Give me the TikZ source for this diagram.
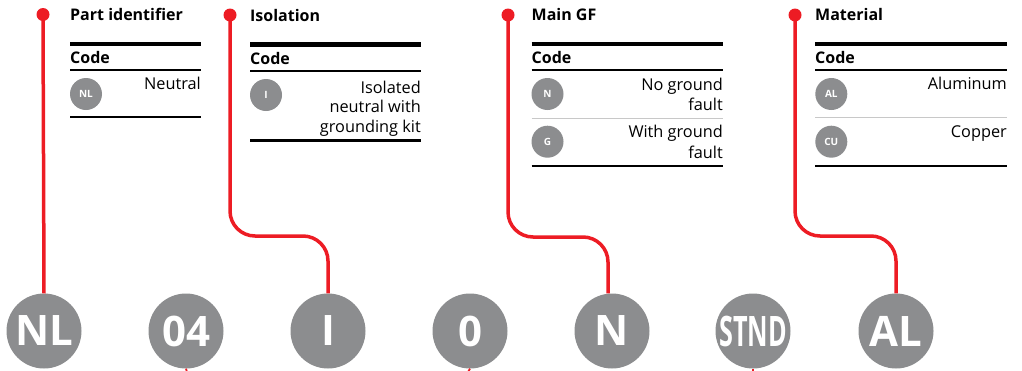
\documentclass[tikz,border=0pt]{standalone}
\usepackage{fontspec}
\setmainfont{Open Sans}
\usetikzlibrary{calc}
\definecolor{abbred}{RGB}{237,28,36}
\definecolor{circgray}{RGB}{140,141,143}
\definecolor{sepgray}{RGB}{200,200,200}
\begin{document}
\begin{tikzpicture}[x=1pt,y=-1pt,
 big/.style={circle,fill=circgray,minimum size=75pt,inner sep=0pt,text=white,font=\fontsize{42}{42}\selectfont\bfseries},
 small/.style={circle,fill=circgray,minimum size=32pt,inner sep=0pt,text=white,font=\fontsize{10}{10}\selectfont\bfseries},
 dotnode/.style={circle,fill=abbred,minimum size=13pt,inner sep=0pt},
 link/.style={draw=abbred,line width=3.5pt,rounded corners=25pt},
 stub/.style={draw=abbred,line width=1.8pt},
 title/.style={anchor=base west,inner sep=0pt,font=\fontsize{16}{16}\selectfont\bfseries},
 body/.style={anchor=base east,inner sep=0pt,font=\fontsize{16.3}{16}\selectfont},
 thickrule/.style={line width=4.5pt},
 rule/.style={line width=2.2pt},
 thinrule/.style={draw=sepgray,line width=1pt}]
\useasboundingbox (0,0) rectangle (1022,370);

% big code circles
\node[big] (c1) at (44,331) {NL};
\node[big] (c2) at (186,331) {04};
\node[big] (c3) at (328,331) {I};
\node[big] (c4) at (470,331) {0};
\node[big] (c5) at (612,331) {N};
\node[big] (c6) at (753,331) {\scalebox{0.6}[1]{STND}};
\node[big] (c7) at (896,331) {AL};

% dots
\node[dotnode] (d1) at (43,14.5) {};
\node[dotnode] (d2) at (230,15) {};
\node[dotnode] (d3) at (508,15) {};
\node[dotnode] (d4) at (795,15) {};

% connectors
\draw[link] (d1.center) -- (c1.north);
\draw[link] (d2.center) -- (d2.center |- 0,236) -- (c3.north |- 0,236) -- (c3.north);
\draw[link] (d3.center) -- (d3.center |- 0,237) -- ($(c5.north |- 0,237)+(-4,0)$) -- ($(c5.north)+(-4,0)$);
\draw[link] (d4.center) -- (d4.center |- 0,236) -- (c7.north |- 0,236) -- (c7.north);
\coordinate (e2) at (187,372);
\coordinate (e4) at (468,372);
\coordinate (e6) at (753,372);
\draw[stub] (c2.south) -- (e2);
\draw[stub] (c4.south) -- (e4);
\draw[stub] (c6.south) -- (e6);

% ---- Part identifier
\node[title] (t1) at (70,20) {Part identifier};
\draw[thickrule] (70,43.8) -- (201,43.8);
\node[title] (k1) at (70,63) {Code};
\draw[rule] (70,70) -- (201,70);
\node[small] (s1) at (86,94) {NL};
\node[body] (b1) at (201,89.3) {Neutral};
\draw[rule] (70,117) -- (201,117);

% ---- Isolation
\node[title] (t2) at (250,21.5) {Isolation};
\draw[thickrule] (250,44.5) -- (421,44.5);
\node[title] (k2) at (250,64) {Code};
\draw[rule] (250,71) -- (421,71);
\node[small] (s2) at (266,95) {I};
\node[body] (b2a) at (421,93) {Isolated};
\node[body] (b2b) at (421,112.5) {neutral with};
\node[body] (b2c) at (421,132) {grounding kit};
\draw[rule] (250,140.5) -- (421,140.5);

% ---- Main GF
\node[title] (t3) at (531.5,20.7) {Main GF};
\draw[thickrule] (531.5,43.8) -- (723,43.8);
\node[title] (k3) at (531.5,63.3) {Code};
\draw[rule] (531.5,70) -- (723,70);
\node[small] (s3) at (547.5,94) {N};
\node[body] (b3a) at (723,90) {No ground};
\node[body] (b3b) at (723,110.7) {fault};
\draw[thinrule] (531.5,118.3) -- (723,118.3);
\node[small] (s4) at (547.5,141.7) {G};
\node[body] (b3c) at (723,137.3) {With ground};
\node[body] (b3d) at (723,158) {fault};
\draw[rule] (531.5,166.3) -- (723,166.3);

% ---- Material
\node[title] (t4) at (815,20.7) {Material};
\draw[thickrule] (815,43.8) -- (1007,43.8);
\node[title] (k4) at (815,63.3) {Code};
\draw[rule] (815,70) -- (1007,70);
\node[small] (s5) at (831.3,94) {AL};
\node[body] (b4a) at (1007,89.3) {Aluminum};
\draw[thinrule] (815,117.7) -- (1007,117.7);
\node[small] (s6) at (831.3,141.7) {CU};
\node[body] (b4b) at (1007,137.3) {Copper};
\draw[rule] (815,166) -- (1007,166);
\end{tikzpicture}
\end{document}
